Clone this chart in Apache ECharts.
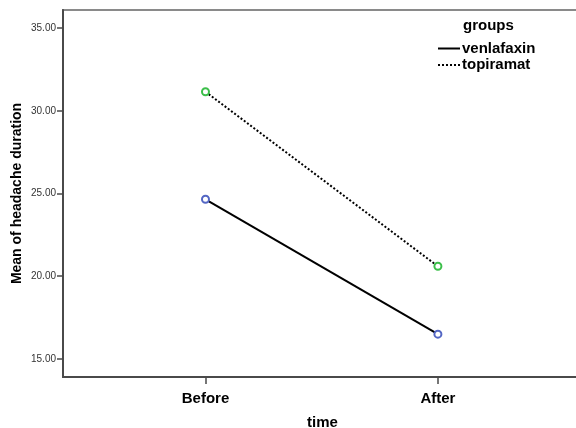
<!DOCTYPE html>
<html>
<head>
<meta charset="utf-8">
<script src="https://cdn.jsdelivr.net/npm/echarts@6/dist/echarts.min.js"></script>
<style>
  html, body { margin: 0; padding: 0; background: #fff; }
  #chart { width: 576px; height: 428px; }
</style>
</head>
<body>
<div id="chart"></div>
<script>
// time points (x positions 0 and 1)
var categories = ['Before', 'After'];
var venlafaxin = [24.65, 16.5];
var topiramat = [31.15, 20.6];
var yTicks = [15, 20, 25, 30, 35];

var chart = echarts.init(document.getElementById('chart'));

function toPoints(values) {
  return values.map(function (v, i) { return [i, v]; });
}

var boldFont = 'Liberation Sans, Arial, sans-serif';

var option = {
  animation: false,
  textStyle: { fontFamily: boldFont },
  title: {
    text: 'groups',
    left: 458,
    top: 13,
    textStyle: { fontSize: 15, fontWeight: 'bold', color: '#000', fontFamily: boldFont }
  },
  legend: {
    orient: 'vertical',
    left: 432,
    top: 36,
    itemWidth: 22,
    itemHeight: 10,
    itemGap: 1.5,
    itemStyle: { opacity: 0 },
    textStyle: { fontSize: 15, fontWeight: 'bold', color: '#000', padding: [0, 0, 0, -3] },
    data: ['venlafaxin', 'topiramat']
  },
  grid: {
    left: 63,
    right: -6,
    top: 10,
    bottom: 51,
    outerBoundsMode: 'none',
    containLabel: false,
    show: true,
    borderColor: '#8a8a8a',
    borderWidth: 2
  },
  xAxis: {
    type: 'value',
    min: -0.613,
    max: 1.62,
    name: 'time',
    nameLocation: 'middle',
    nameGap: 38,
    nameMoveOverlap: false,
    nameTextStyle: { fontSize: 15, fontWeight: 'bold', color: '#000' },
    splitLine: { show: false },
    axisLine: { onZero: false, lineStyle: { color: '#4a4a4a', width: 2 } },
    axisTick: { customValues: [0, 1], length: 7, lineStyle: { color: '#4a4a4a', width: 1.5 } },
    axisLabel: {
      customValues: [0, 1],
      margin: 14,
      fontSize: 15,
      fontWeight: 'bold',
      color: '#000',
      formatter: function (v) { return categories[Math.round(v)]; }
    }
  },
  yAxis: {
    type: 'value',
    min: 13.91,
    max: 36.09,
    name: 'Mean of headache duration',
    nameLocation: 'middle',
    nameRotate: 90,
    nameGap: 39,
    nameMoveOverlap: false,
    nameTextStyle: { fontSize: 14, fontWeight: 'bold', color: '#000' },
    splitLine: { show: false },
    axisLine: { show: true, onZero: false, lineStyle: { color: '#4a4a4a', width: 2 } },
    axisTick: { show: true, customValues: yTicks, length: 6, lineStyle: { color: '#4a4a4a', width: 1.5 } },
    axisLabel: {
      customValues: yTicks,
      margin: 7,
      fontSize: 10,
      color: '#333',
      fontFamily: 'Liberation Sans, Arial, sans-serif',
      formatter: function (v) { return v.toFixed(2); }
    }
  },
  series: [
    {
      name: 'venlafaxin',
      type: 'line',
      data: toPoints(venlafaxin),
      symbol: 'emptyCircle',
      symbolSize: 7,
      itemStyle: { color: '#5366c4', borderWidth: 1.2 },
      lineStyle: { color: '#000', width: 2 }
    },
    {
      name: 'topiramat',
      type: 'line',
      data: toPoints(topiramat),
      symbol: 'emptyCircle',
      symbolSize: 7,
      itemStyle: { color: '#3cbf4a', borderWidth: 1.2 },
      lineStyle: { color: '#000', width: 2, type: 'dotted' }
    }
  ]
};

chart.setOption(option);
</script>
</body>
</html>
